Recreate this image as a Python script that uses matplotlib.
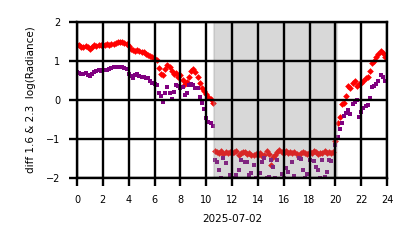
import numpy as np
import matplotlib
matplotlib.use("Agg")
import matplotlib.pyplot as plt

# sample times, every 10 minutes over the day (hours)
hours = np.arange(144) / 6.0

# diff 1.6 um log radiance (red diamonds)
diff_16 = [
    1.40, 1.41, 1.37, 1.36, 1.38, 1.35,
    1.30, 1.36, 1.41, 1.39, 1.42, 1.41,
    1.42, 1.41, 1.43, 1.42, 1.44, 1.45,
    1.47, 1.49, 1.50, 1.48, 1.46, 1.45,
    1.38, 1.30, 1.28, 1.25, 1.28, 1.25,
    1.22, 1.24, 1.18, 1.15, 1.13, 1.10,
    1.06, 1.02, 0.82, 0.66, 0.64, 0.80,
    0.90, 0.86, 0.75, 0.68, 0.70, 0.60,
    0.64, 0.52, 0.42, 0.46, 0.58, 0.74,
    0.80, 0.72, 0.60, 0.45, 0.30, 0.22,
    0.16, 0.08, 0.04, -0.08, -1.30, -1.33,
    -1.35, -1.30, -1.38, -1.32, -1.36, -1.33,
    -1.37, -1.33, -1.30, -1.40, -1.35, -1.34,
    -1.32, -1.38, -1.36, -1.42, -1.40, -1.38,
    -1.41, -1.36, -1.44, -1.40, -1.30, -1.38,
    -1.66, -1.45, -1.40, -1.33, -1.28, -1.32,
    -1.35, -1.30, -1.37, -1.34, -1.36, -1.33,
    -1.38, -1.46, -1.35, -1.32, -1.37, -1.39,
    -1.33, -1.36, -1.30, -1.34, -1.38, -1.35,
    -1.37, -1.31, -1.36, -1.33, -1.35, -1.34,
    -1.05, -0.60, -0.44, -0.10, -0.08, 0.10,
    0.35, 0.30, 0.45, 0.50, 0.35, 0.40,
    0.43, 0.50, 0.56, 0.60, 0.75, 0.95,
    1.00, 1.10, 1.18, 1.25, 1.20, 1.10,
]

# diff 2.3 um log radiance (purple squares)
diff_23 = [
    0.72, 0.70, 0.68, 0.66, 0.70, 0.64,
    0.62, 0.66, 0.72, 0.74, 0.77, 0.75,
    0.77, 0.76, 0.78, 0.80, 0.83, 0.85,
    0.84, 0.86, 0.85, 0.84, 0.82, 0.80,
    0.68, 0.62, 0.56, 0.64, 0.66, 0.61,
    0.60, 0.58, 0.57, 0.56, 0.50, 0.43,
    0.40, 0.38, 0.19, 0.10, -0.05, 0.19,
    0.34, 0.18, 0.03, 0.20, 0.38, 0.36,
    0.30, 0.34, 0.12, 0.18, 0.38, 0.40,
    0.38, 0.30, 0.30, 0.08, -0.08, -0.24,
    -0.45, -0.56, -0.60, -0.66, -1.54, -1.60,
    -1.79, -2.00, -1.49, -1.62, -2.30, -1.92,
    -2.30, -2.00, -1.92, -1.79, -1.54, -2.30,
    -1.58, -1.60, -1.92, -1.87, -1.66, -2.00,
    -2.30, -1.87, -1.60, -1.49, -2.00, -1.96,
    -1.54, -1.72, -2.00, -1.54, -2.30, -1.90,
    -2.00, -1.74, -1.84, -2.30, -1.60, -1.95,
    -2.30, -1.49, -1.52, -1.79, -2.00, -1.90,
    -1.54, -2.30, -1.56, -1.72, -1.79, -2.00,
    -1.54, -1.98, -1.84, -1.54, -1.56, -2.30,
    -1.15, -0.95, -0.75, -0.60, -0.40, -0.33,
    -0.25, -0.35, -0.10, -0.05, 0.00, -0.44,
    -0.30, -0.20, -0.15, -0.13, 0.05, 0.33,
    0.35, 0.40, 0.50, 0.64, 0.60, 0.48,
]

night = [10.6, 20.1]

fig = plt.figure(figsize=(4.14, 2.48), dpi=100)
ax = fig.add_axes([0.186, 0.282, 0.749, 0.629])

ax.plot(hours, diff_16, 'D', color='#ff0000', ms=3.4, mew=0, zorder=2)
ax.plot(hours, diff_23, 's', color='#800080', ms=2.9, mew=0, zorder=2)
ax.axvspan(night[0], night[1], facecolor='gray', edgecolor='#a0a0a0',
           alpha=0.3, lw=1.5, zorder=2.2)

ax.set_xlim(0, 24)
ax.set_ylim(-2, 2)
ax.set_xticks(range(0, 25, 2))
ax.set_yticks(range(-2, 3))
ax.set_axisbelow(False)
ax.grid(True, color='black', linewidth=1.7)
ax.tick_params(labelsize=7, length=6, width=1.7, pad=6)
for s in ax.spines.values():
    s.set_linewidth(1.7)

ax.set_xlabel('2025-07-02', fontsize=7.5, labelpad=7)
ax.set_ylabel('diff 1.6 & 2.3  log(Radiance)', fontsize=7.5, labelpad=7)

fig.savefig('out.png', dpi=100)
